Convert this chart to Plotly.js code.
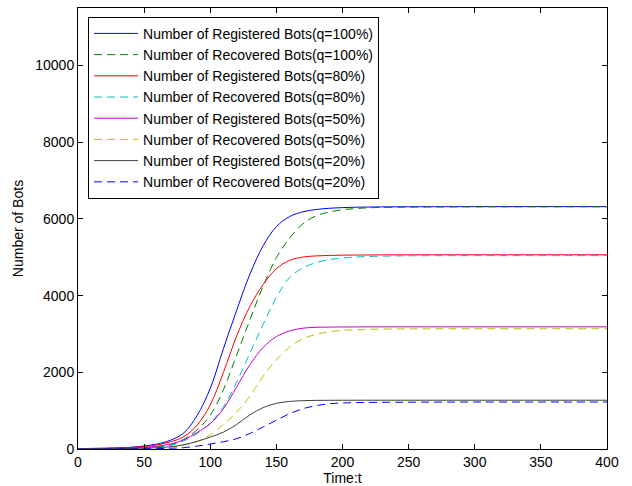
<!DOCTYPE html>
<html>
<head>
<meta charset="utf-8">
<script src="https://cdn.plot.ly/plotly-3.0.1.min.js"></script>
<style>html,body{margin:0;padding:0;background:#fff;}#chart{width:632px;height:486px;}</style>
</head>
<body>
<div id="chart"></div>
<script>
// Time samples (t)
var tValues = [0,10,20,30,40,50,60,70,80,90,100,110,120,130,140,150,160,170,180,190,200,210,220,240,260,300,350,400];

// Series values (number of bots)
var regQ100 = [10,15,20,30,45,80,130,230,420,870,1580,2620,3620,4560,5300,5800,6060,6185,6245,6278,6295,6305,6310,6315,6318,6320,6320,6320];
var recQ100 = [0,2,5,10,20,35,60,110,250,500,880,1550,2450,3370,4250,4990,5500,5870,6080,6180,6240,6270,6290,6305,6310,6314,6316,6316];
var regQ80  = [8,12,16,25,38,65,110,190,320,620,1150,2000,2950,3720,4290,4700,4920,5005,5035,5048,5055,5058,5060,5062,5064,5065,5065,5065];
var recQ80  = [0,2,4,8,15,28,50,95,210,400,680,1100,1750,2500,3250,3960,4470,4720,4860,4940,4980,5005,5020,5035,5040,5042,5043,5043];
var regQ50  = [5,8,12,18,28,45,75,130,240,430,660,1050,1620,2200,2650,2930,3080,3150,3175,3180,3182,3183,3184,3185,3185,3185,3185,3185];
var recQ50  = [0,1,2,5,10,18,30,55,100,190,370,640,960,1380,1900,2330,2660,2870,2990,3060,3095,3110,3120,3130,3133,3135,3135,3135];
var regQ20  = [3,5,7,10,15,22,35,60,110,200,310,440,640,890,1080,1190,1240,1260,1268,1270,1271,1272,1272,1272,1272,1272,1272,1272];
var recQ20  = [0,0,1,2,3,5,10,20,35,75,130,190,270,405,575,750,920,1050,1130,1180,1200,1210,1215,1220,1222,1225,1225,1225];

var seriesNames = [
  'Number of Registered Bots(q=100%)',
  'Number of Recovered Bots(q=100%)',
  'Number of Registered Bots(q=80%)',
  'Number of Recovered Bots(q=80%)',
  'Number of Registered Bots(q=50%)',
  'Number of Recovered Bots(q=50%)',
  'Number of Registered Bots(q=20%)',
  'Number of Recovered Bots(q=20%)'
];
var seriesData = [regQ100, recQ100, regQ80, recQ80, regQ50, recQ50, regQ20, recQ20];
var xTickVals = [0,50,100,150,200,250,300,350,400];
var yTickVals = [0,2000,4000,6000,8000,10000];

var colors = ['#0000ff','#008000','#ff0000','#00bfbf','#c800c8','#bfbf00','#404040','#0000ff'];
var dashes = ['solid','8px,5px','solid','8px,5px','solid','8px,5px','solid','8px,5px'];

var traces = seriesData.map(function(vals, i){
  return {
    x: tValues, y: vals, type: 'scatter', mode: 'lines', name: seriesNames[i],
    line: {color: colors[i], width: 1, dash: dashes[i], shape: 'spline', smoothing: 1}
  };
});

var font = 'Liberation Sans, Arial, Helvetica, sans-serif';
var layout = {
  width: 632, height: 486,
  margin: {l: 78, r: 25, t: 8, b: 37, pad: 0},
  paper_bgcolor: '#fff', plot_bgcolor: '#fff',
  font: {family: font, size: 14, color: '#000'},
  showlegend: true,
  legend: {
    x: 0.019, y: 0.98, xanchor: 'left', yanchor: 'top',
    bgcolor: '#fff', bordercolor: '#000', borderwidth: 1,
    font: {family: font, size: 14, color: '#000'},
    itemwidth: 44
  },
  xaxis: {
    range: [0, 400], tickvals: xTickVals, ticktext: xTickVals.map(String),
    ticks: 'inside', ticklen: 5, tickcolor: '#000', tickwidth: 1,
    showline: true, linecolor: '#000', linewidth: 1, mirror: 'ticks',
    showgrid: false, zeroline: false,
    tickfont: {family: font, size: 14},
    title: {text: 'Time:t', font: {family: font, size: 14}, standoff: 4}
  },
  yaxis: {
    range: [0, 11500], tickvals: yTickVals, ticktext: yTickVals.map(String),
    ticks: 'inside', ticklen: 5, tickcolor: '#000', tickwidth: 1,
    showline: true, linecolor: '#000', linewidth: 1, mirror: 'ticks',
    showgrid: false, zeroline: false,
    tickfont: {family: font, size: 14},
    title: {text: 'Number of Bots', font: {family: font, size: 14}, standoff: 8}
  }
};

Plotly.newPlot('chart', traces, layout, {staticPlot: true, displayModeBar: false});
</script>
</body>
</html>
